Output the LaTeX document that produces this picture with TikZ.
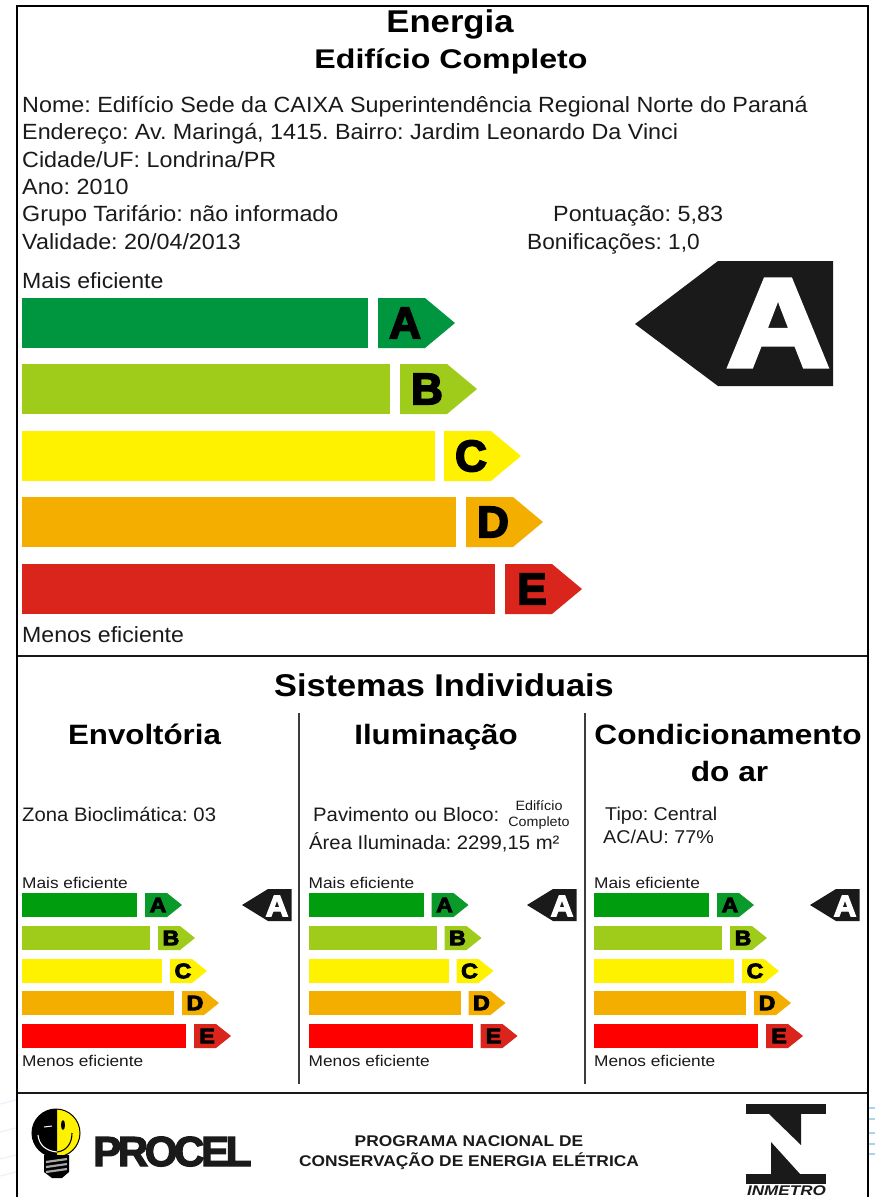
\documentclass[tikz,border=0pt]{standalone}
\usepackage{fontspec}
\setmainfont{Liberation Sans}
\newfontfamily\heavyfont[FakeBold=4]{Liberation Sans Bold}
\newfontfamily\logofont[FakeBold=3,LetterSpace=-8]{Liberation Sans Bold}
\newfontfamily\inmfont[FakeStretch=1.22]{Liberation Sans Bold Italic}
\definecolor{ink}{HTML}{1A1A1A}
\definecolor{gA}{HTML}{009640}
\definecolor{gB}{HTML}{9FCB1A}
\definecolor{gC}{HTML}{FFF200}
\definecolor{gD}{HTML}{F4AE00}
\definecolor{gE}{HTML}{DA251C}
\definecolor{mA}{HTML}{009E0F}
\definecolor{mAa}{HTML}{0A9A2A}
\definecolor{mE}{HTML}{FF0000}
\definecolor{halo}{HTML}{A8D4F0}
\definecolor{halob}{HTML}{EEF3FA}
\tikzset{
  x=1pt,y=-1pt,
  txt/.style 2 args={inner sep=0pt,anchor=base west,text=ink,transform shape,xscale=#2,font=\frenchspacing\fontsize{#1}{#1}\selectfont},
  ctitle/.style 2 args={inner sep=0pt,anchor=base,text=black,transform shape,xscale=#2,font=\fontsize{#1}{#1}\selectfont\bfseries},
  letter/.style={inner sep=0pt,anchor=center,text=#1},
  rule/.style={draw=ink,line width=2.2pt},
  vrule/.style={draw=ink!85,line width=1.6pt}
}
\newcommand{\mainrow}[5]{%
  \fill[#2] (22,#5) rectangle (#3,#5+50);
  \fill[#2] (#4,#5) -- (#4+47,#5) -- (#4+77,#5+25) -- (#4+47,#5+50) -- (#4,#5+50) -- cycle;
  \node[letter=black,font=\heavyfont\fontsize{44}{44}\selectfont] (main#1) at (#4+27,#5+25) {#1};
}
\newcommand{\minirow}[7]{%
  \fill[#3] (#1+22,#5) rectangle (#1+#6,#5+24);
  \fill[#4] (#1+#6+8,#5) -- (#1+#6+30,#5) -- (#1+#6+45,#5+12) -- (#1+#6+30,#5+24) -- (#1+#6+8,#5+24) -- cycle;
  \node[letter=black,transform shape,xscale=1.1,font=\heavyfont\fontsize{21}{21}\selectfont] (s#7#2) at (#1+#6+21,#5+12) {#2};
}
\newcommand{\minichart}[3]{%
  \node[txt={15.5}{1.115}] (more#2) at (#1+22,888) {Mais eficiente};
  \minirow{#1}{A}{mA}{mAa}{893}{137}{#2}
  \minirow{#1}{B}{gB}{gB}{926}{150}{#2}
  \minirow{#1}{C}{gC}{gC}{959}{162}{#2}
  \minirow{#1}{D}{gD}{gD}{991}{174}{#2}
  \minirow{#1}{E}{mE}{gE}{1024}{186}{#2}
  \node[txt={15.5}{1.115}] (less#2) at (#1+22,1066) {Menos eficiente};
  \fill[ink] (#3+242,905) -- (#3+268,889) -- (#3+291.5,889) -- (#3+291.5,921) -- (#3+268,921) -- cycle;
  \node[letter=white,transform shape,xscale=1.05,font=\heavyfont\fontsize{30}{30}\selectfont] (res#2) at (#3+277,906) {A};
}
\begin{document}
\begin{tikzpicture}
\useasboundingbox (0,0) rectangle (875,1197);
\fill[white] (0,0) rectangle (875,1197);
% faint margin marks
\foreach \yy in {1108,1119,1133,1144,1154}{\draw[halo,line width=1.6pt] (868,\yy) -- (875,\yy);}
\foreach \yy in {1100,1128,1155,1172}{\draw[halob,line width=1.4pt] (0,\yy+4) -- (16,\yy);}
% heading
\node[ctitle={31.5}{1.1}] (energia) at (450,32) {Energia};
\fill[white] (0,0) rectangle (875,6);
\node[ctitle={27}{1.19}] (edificio) at (451,68) {Edifício Completo};
\node[txt={22}{1.06}] (n1) at (22,112) {Nome: Edifício Sede da CAIXA Superintendência Regional Norte do Paraná};
\node[txt={22}{1.06}] (n2) at (22,139) {Endereço: Av. Maringá, 1415. Bairro: Jardim Leonardo Da Vinci};
\node[txt={22}{1.06}] (n3) at (22,167) {Cidade/UF: Londrina/PR};
\node[txt={22}{1.06}] (n4) at (22,194) {Ano: 2010};
\node[txt={22}{1.06}] (n5) at (22,221) {Grupo Tarifário: não informado};
\node[txt={22}{1.06}] (n6) at (22,249) {Validade: 20/04/2013};
\node[txt={22}{1.06}] (pont) at (553,221) {Pontuação: 5,83};
\node[txt={22}{1.03}] (boni) at (527,249) {Bonificações: 1,0};
\node[txt={22}{1.05}] (mais) at (22,288) {Mais eficiente};
% main chart
\mainrow{A}{gA}{368}{378}{298}
\mainrow{B}{gB}{390}{400}{364}
\mainrow{C}{gC}{435}{444}{431}
\mainrow{D}{gD}{456}{466}{497}
\mainrow{E}{gE}{495}{505}{564}
\node[txt={22}{1.05}] (menos) at (22,642) {Menos eficiente};
\fill[ink] (635,324) -- (718,261) -- (833,261) -- (833,386) -- (718,386) -- cycle;
\node[letter=white,transform shape,xscale=1.13,font=\heavyfont\fontsize{125}{125}\selectfont] (resA) at (778,323) {A};
% lines
\draw[rule] (17,656) -- (868,656);
\draw[rule] (17,1093) -- (868,1093);
\draw[vrule] (299,713) -- (299,1084);
\draw[vrule] (585,713) -- (585,1084);
% systems
\node[ctitle={31.5}{1.09}] (sist) at (444,696) {Sistemas Individuais};
\node[ctitle={28}{1.117}] (env) at (144.5,744) {Envoltória};
\node[ctitle={28}{1.117}] (ilu) at (436,744) {Iluminação};
\node[ctitle={28}{1.13}] (cond) at (728,744) {Condicionamento};
\node[ctitle={28}{1.13}] (doar) at (729.5,781) {do ar};
\node[txt={19.5}{1.04}] (zona) at (22,821) {Zona Bioclimática: 03};
\node[txt={19.5}{1.04}] (pav) at (313,821) {Pavimento ou Bloco:};
\node[ctitle={13.5}{1.06},font=\fontsize{13.5}{13.5}\selectfont,text=ink] (edc1) at (539,810) {Edifício};
\node[ctitle={13.5}{1.06},font=\fontsize{13.5}{13.5}\selectfont,text=ink] (edc2) at (539,826) {Completo};
\node[txt={19.5}{1.04}] (area) at (309,849) {Área Iluminada: 2299,15 m²};
\node[txt={18.5}{1.065}] (tipo) at (605,820) {Tipo: Central};
\node[txt={18.5}{1.065}] (acau) at (603,843) {AC/AU: 77\%};
\minichart{0}{one}{0}
\minichart{286.5}{two}{285}
\minichart{572}{three}{568}
% PROCEL logo
\fill[gC] (56,1133) circle (24);
\begin{scope}
  \clip (20,1100) rectangle (57,1170);
  \fill[black] (56,1133) circle (24);
\end{scope}
\draw[black,line width=1pt] (56,1133) circle (24);
\fill[black] (63,1125) ellipse (2 and 5);
\draw[black,line width=1.1pt] (57,1152) .. controls (66,1151) and (72,1144) .. (72,1133);
\draw[white,line width=1.1pt] (57,1152) .. controls (46,1151) and (39,1145) .. (38,1135);
\draw[white,line width=1pt] (44,1127) -- (52,1126);
\fill[black] (44,1155) -- (69,1155) -- (69,1172) -- (62,1178) -- (52,1178) -- (44,1172) -- cycle;
\foreach \yy in {1160,1165,1170}{\draw[white!65!black,line width=2.2pt] (46,\yy+2) -- (67,\yy-1);}
\node[inner sep=0pt,anchor=base west,text=ink,font=\logofont\fontsize{42}{42}\selectfont] (procel) at (93,1166) {PROCEL};
\node[inner sep=0pt,anchor=center,align=center,text=ink,transform shape,xscale=1.12,font=\fontsize{15.5}{20}\selectfont\bfseries] (prog) at (469,1153) {PROGRAMA NACIONAL DE\\CONSERVAÇÃO DE ENERGIA ELÉTRICA};
% INMETRO logo
\fill[ink] (746,1104) rectangle (826,1114);
\fill[ink] (769,1114) -- (801,1114) -- (801,1145) -- cycle;
\fill[ink] (771,1142) -- (800,1174) -- (771,1174) -- cycle;
\fill[ink] (746,1174) rectangle (826,1184);
\node[inner sep=0pt,anchor=base,text=ink,font=\inmfont\fontsize{14}{14}\selectfont] (inm) at (786.5,1195.5) {INMETRO};
% frame
\draw[black,line width=2.4pt] (17,1197) -- (17,6) -- (868,6) -- (868,1197);
\end{tikzpicture}
\end{document}
